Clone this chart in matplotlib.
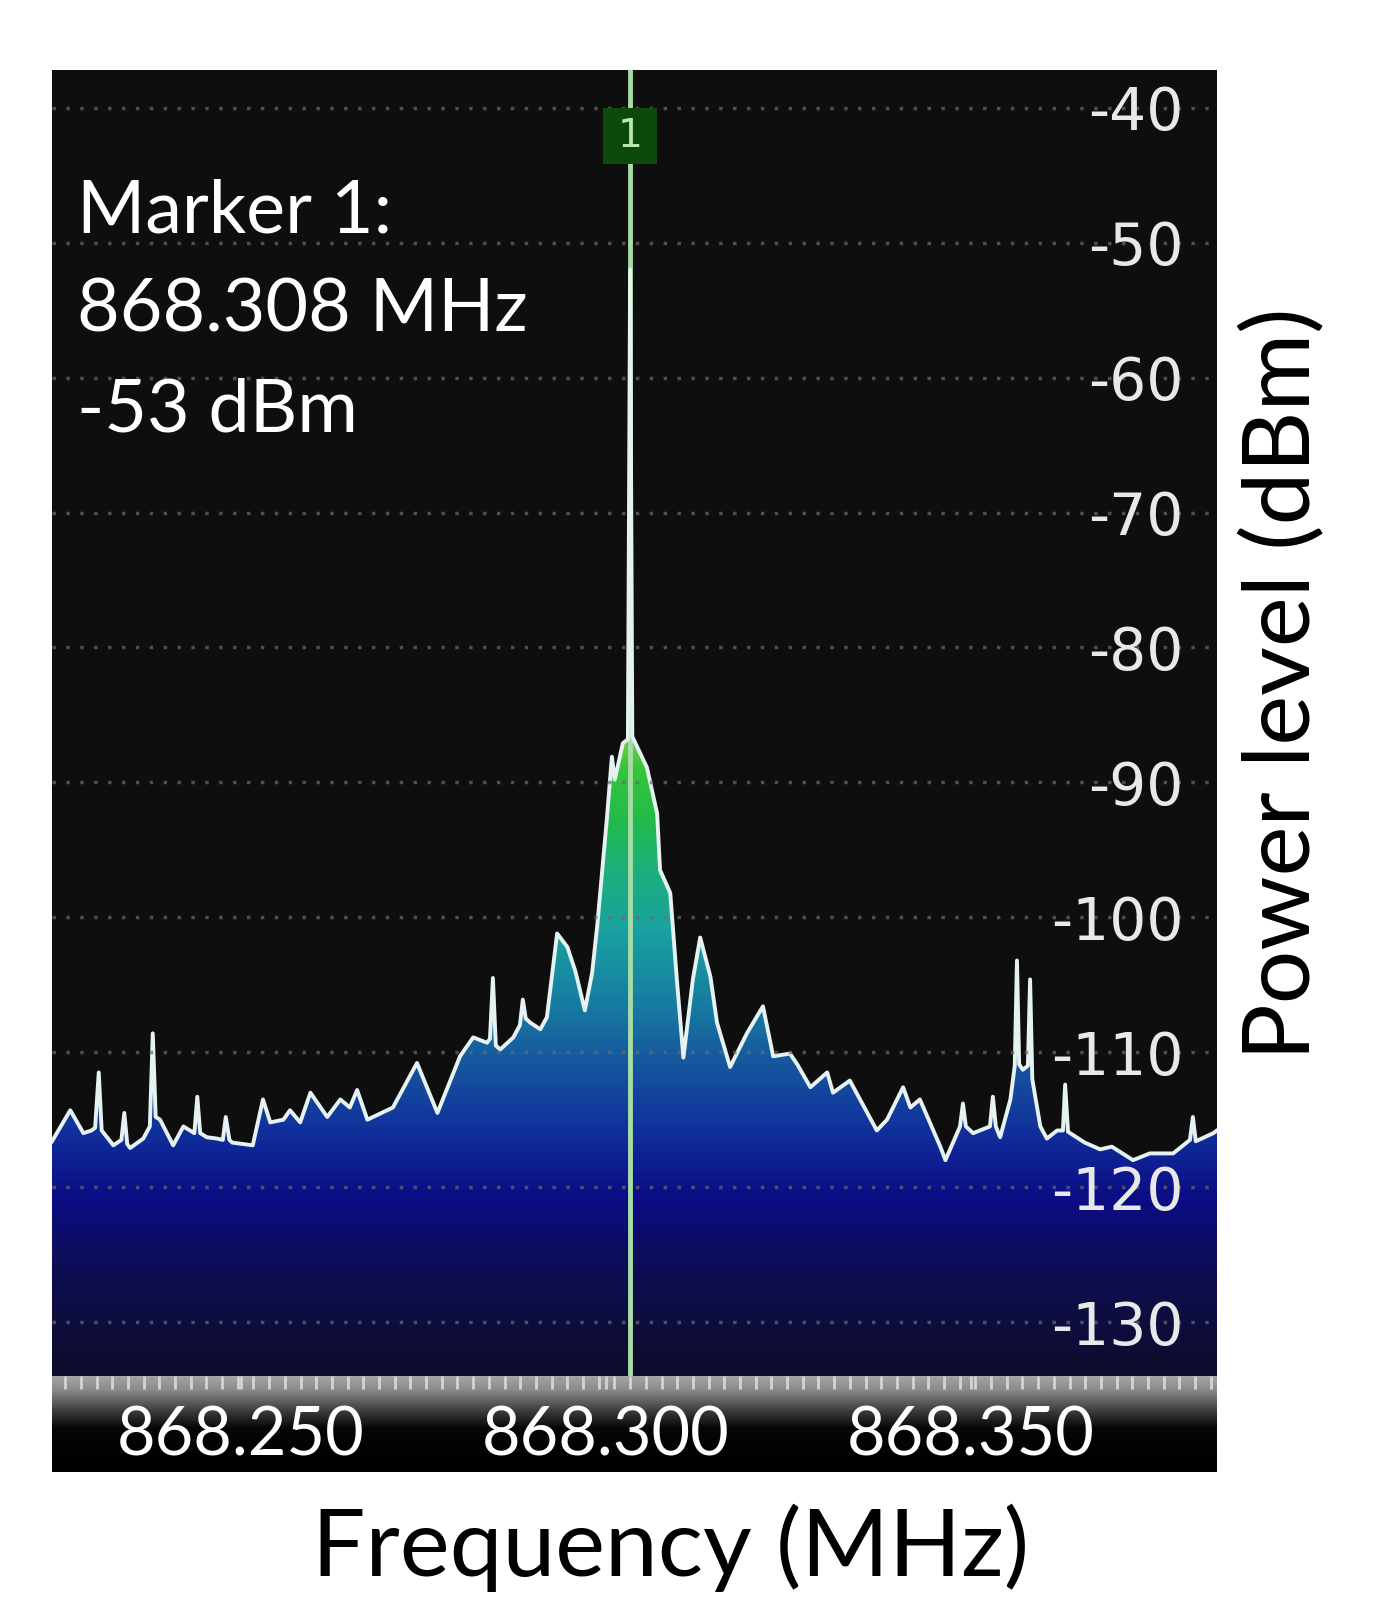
import numpy as np
import matplotlib
matplotlib.use("Agg")
import matplotlib.pyplot as plt
from matplotlib.colors import LinearSegmentedColormap
from matplotlib.ticker import FixedLocator, MultipleLocator, NullLocator
from matplotlib.patches import Rectangle

plt.rcParams['axes.unicode_minus'] = False
plt.rcParams['font.family'] = ['Lato', 'DejaVu Sans']

# spectrum trace
freq_mhz = [
    868.2241, 868.2266, 868.2284, 868.2295, 868.2300, 868.2305, 868.2309, 868.2325,
    868.2336, 868.2340, 868.2344, 868.2348, 868.2366, 868.2375, 868.2379, 868.2383,
    868.2389, 868.2407, 868.2421, 868.2436, 868.2440, 868.2444, 868.2453, 868.2467,
    868.2475, 868.2479, 868.2484, 868.2488, 868.2516, 868.2530, 868.2540, 868.2558,
    868.2567, 868.2581, 868.2595, 868.2618, 868.2636, 868.2649, 868.2659, 868.2673,
    868.2708, 868.2741, 868.2769, 868.2800, 868.2818, 868.2837, 868.2841, 868.2845,
    868.2849, 868.2855, 868.2873, 868.2882, 868.2886, 868.2890, 868.2896, 868.2910,
    868.2919, 868.2933, 868.2947, 868.2958, 868.2971, 868.2981, 868.2988, 868.3001,
    868.3008, 868.3012, 868.3023, 868.3030, 868.3033, 868.3036, 868.3056, 868.3070,
    868.3074, 868.3088, 868.3097, 868.3106, 868.3119, 868.3129, 868.3143, 868.3152,
    868.3170, 868.3193, 868.3215, 868.3229, 868.3252, 868.3262, 868.3280, 868.3303,
    868.3311, 868.3334, 868.3358, 868.3371, 868.3385, 868.3407, 868.3417, 868.3430,
    868.3458, 868.3465, 868.3485, 868.3489, 868.3493, 868.3503, 868.3526, 868.3530,
    868.3534, 868.3540, 868.3554, 868.3560, 868.3563, 868.3566, 868.3571, 868.3578,
    868.3581, 868.3584, 868.3595, 868.3604, 868.3618, 868.3626, 868.3629, 868.3633,
    868.3656, 868.3677, 868.3693, 868.3722, 868.3745, 868.3777, 868.3800, 868.3804,
    868.3808, 868.3832, 868.3837]
power_dbm = [
    -116.6, -114.3, -116.0, -115.8, -115.6, -111.5, -115.8, -116.9,
    -116.5, -114.5, -116.8, -117.1, -116.4, -115.5, -108.6, -114.8,
    -115.0, -116.9, -115.5, -116.0, -113.3, -116.0, -116.3, -116.4,
    -116.5, -114.8, -116.5, -116.7, -116.9, -113.5, -115.2, -115.0,
    -114.3, -115.2, -113.0, -114.8, -113.5, -114.1, -112.8, -115.0,
    -114.1, -110.8, -114.5, -110.3, -108.9, -109.3, -109.0, -104.5,
    -109.5, -109.8, -108.9, -108.0, -106.1, -107.5, -107.8, -108.3,
    -107.4, -101.2, -102.2, -104.0, -106.9, -104.1, -100.6, -92.8,
    -88.1, -89.8, -87.1, -86.8, -52.0, -86.6, -88.9, -92.3,
    -96.5, -98.2, -104.6, -110.4, -104.6, -101.5, -104.4, -107.8,
    -111.1, -108.6, -106.6, -110.3, -110.1, -110.9, -112.6, -111.5,
    -113.0, -112.1, -114.5, -115.8, -115.0, -112.6, -114.1, -113.5,
    -117.0, -118.0, -115.5, -113.8, -115.5, -116.0, -115.5, -113.3,
    -115.5, -116.3, -113.5, -111.0, -103.2, -110.9, -111.3, -111.0,
    -104.6, -112.0, -115.5, -116.4, -115.8, -115.8, -112.4, -115.9,
    -116.7, -117.2, -117.0, -118.0, -117.5, -117.5, -116.5, -114.8,
    -116.6, -116.0, -115.8]

marker_freq = 868.3033
marker_text = "Marker 1:\n868.308 MHz\n-53 dBm"

y_ticks = [-40, -50, -60, -70, -80, -90, -100, -110, -120, -130]
x_ticks = [868.250, 868.300, 868.350]
x_tick_labels = ["868.250", "868.300", "868.350"]

f_min, f_max = 868.2241, 868.3837
p_min, p_max = -134.0, -37.2

# fill colour goes with the level, like the analyser's
grad_db = [-134, -127, -121, -116, -111, -106, -101, -97, -93, -89, -86, -37.2]
grad_colors = ['#0d0c2c', '#0e0e4e', '#0c0c84', '#10309c', '#16569e', '#1780a2',
               '#19a2a0', '#1cae80', '#22ba4c', '#36c63a', '#86d04e', '#c8e488']

fig = plt.figure(figsize=(13.84, 16.2), dpi=100)
ax = fig.add_axes([0.0376, 0.1506, 0.8417, 0.8062])
ax.set_facecolor('#0e0e0e')
for s in ax.spines.values():
    s.set_visible(False)

poly = ax.fill_between(freq_mhz, power_dbm, p_min, facecolor='none', edgecolor='none')
cmap = LinearSegmentedColormap.from_list(
    'spec', [((d - p_min) / (p_max - p_min), c) for d, c in zip(grad_db, grad_colors)])
grad = np.linspace(p_min, p_max, 600).reshape(-1, 1)
im = ax.imshow(grad, extent=[f_min, f_max, p_min, p_max], origin='lower',
               aspect='auto', cmap=cmap, vmin=p_min, vmax=p_max, zorder=1)
im.set_clip_path(poly.get_paths()[0], transform=ax.transData)

ax.axvline(marker_freq, color='#a6dca6', lw=3.5, zorder=1.8)
ax.plot(freq_mhz, power_dbm, color='#e6f2f2', lw=2.8, zorder=2)

# marker flag "1"
box_w = 0.0075
ax.add_patch(Rectangle((marker_freq - box_w / 2, y_ticks[0] - 4.2), box_w, 4.2,
                       facecolor='#0b4a0b', edgecolor='none', zorder=3))
ax.text(marker_freq, y_ticks[0] - 2.1, "1", color='#b8e8b0', fontsize=28,
        ha='center', va='center', family='DejaVu Sans', zorder=4)

ax.set_xlim(f_min, f_max)
ax.set_ylim(p_min, p_max)
ax.xaxis.set_major_locator(NullLocator())
ax.yaxis.set_major_locator(FixedLocator(y_ticks))
ax.set_yticklabels([str(v) for v in y_ticks])
ax.yaxis.tick_right()
ax.tick_params(axis='y', direction='in', length=0, pad=-24, labelsize=42,
               labelcolor='#e8e8e8')
plt.setp(ax.get_yticklabels(), ha='right', family='DejaVu Sans')
ax.grid(axis='y', color='#6a6a6a', linestyle=(0, (1, 3)), linewidth=2.5, alpha=0.7)
ax.set_axisbelow(False)

ax.text(0.0215, 0.917, marker_text, transform=ax.transAxes, color='white',
        fontsize=53, ha='left', va='top', linespacing=1.6)

ax.set_ylabel('Power level (dBm)', fontsize=68, color='black')
ax.yaxis.set_label_position('right')
ax.yaxis.set_label_coords(1.02, 0.53)

# frequency scale strip under the screen
axs = fig.add_axes([0.0376, 0.0914, 0.8417, 0.0593])
for s in axs.spines.values():
    s.set_visible(False)
strip_cmap = LinearSegmentedColormap.from_list(
    'strip', [(0, '#000000'), (0.45, '#050505'), (0.62, '#383838'),
              (0.85, '#8a8a8a'), (1.0, '#a6a6a6')])
axs.imshow(np.linspace(0, 1, 200).reshape(-1, 1), extent=[f_min, f_max, 0, 1],
           origin='lower', aspect='auto', cmap=strip_cmap, vmin=0, vmax=1)
axs.set_xlim(f_min, f_max)
axs.set_ylim(0, 1)
axs.yaxis.set_major_locator(NullLocator())
axs.xaxis.set_major_locator(FixedLocator(x_ticks))
axs.xaxis.set_minor_locator(MultipleLocator(0.00215))
axs.set_xticklabels(x_tick_labels)
axs.tick_params(axis='x', which='both', top=True, bottom=False, labeltop=False,
                labelbottom=True, direction='in', length=9, width=2, color='#d4d4d4')
axs.tick_params(axis='x', which='major', labelsize=48, labelcolor='white', pad=-48)

axs.set_xlabel('Frequency (MHz)', fontsize=68, color='black')
axs.xaxis.set_label_coords(0.531, -0.33)

fig.savefig('out.png', dpi=100, facecolor='white')
